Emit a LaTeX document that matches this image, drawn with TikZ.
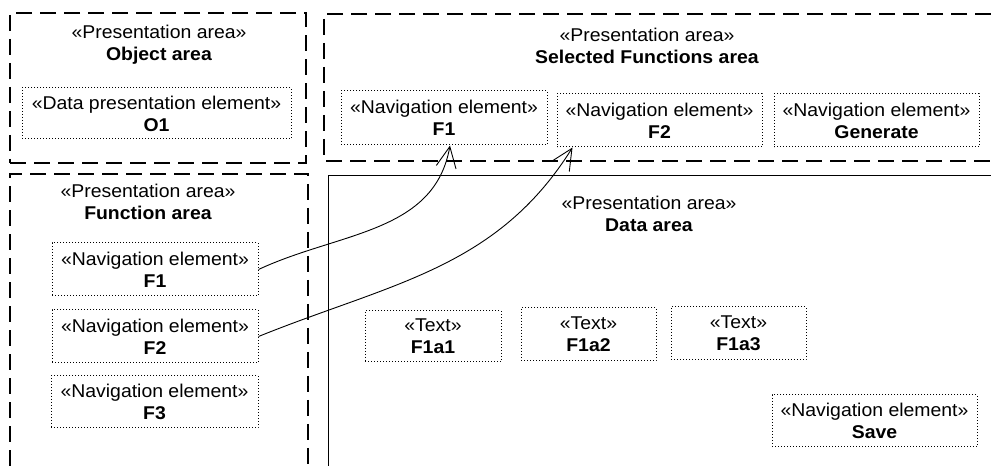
\documentclass[tikz,border=0pt]{standalone}
\usepackage{fontspec}
\setmainfont{Liberation Sans}[FakeStretch=1.05]
\usetikzlibrary{arrows.meta}
\begin{document}
\begin{tikzpicture}[x=1pt,y=1pt,
  every node/.style={font=\fontsize{18.5}{22}\selectfont, align=center},
  areabox/.style={draw, line width=1.8pt, dash pattern=on 16pt off 8pt},
  arealine/.style={line width=1.8pt, dash pattern=on 16pt off 8pt},
  elembox/.style={draw, rectangle, inner sep=0pt, line width=1pt, dash pattern=on 1pt off 2pt},
  areatitle/.style={inner sep=0pt},
  link/.style={line width=0.9pt, -{Straight Barb[length=21pt,width=20pt,line width=0.9pt]}}
]
\fill[white] (0,0) rectangle (991,466);
\useasboundingbox (0,0) rectangle (991,466);

% Object area
\node[areabox, rectangle, minimum width=296pt, minimum height=150pt, inner sep=0pt] (objA) at (158,378) {};
\node[areatitle] (objT) at (159,421.5) {«Presentation area»\\\textbf{Object area}};
\node[elembox, minimum width=269pt, minimum height=51pt] (o1) at (156.5,352.5) {«Data presentation element»\\\textbf{O1}};

% Selected Functions area
\draw[arealine] (991,452) -- (324,452) -- (324,305) -- (991,305);
\node[areatitle] (selT) at (647,420) {«Presentation area»\\\textbf{Selected Functions area}};
\node[elembox, minimum width=206pt, minimum height=54pt] (sF1) at (444,348) {«Navigation element»\\\textbf{F1}};
\node[elembox, minimum width=205pt, minimum height=53pt] (sF2) at (659.5,345.5) {«Navigation element»\\\textbf{F2}};
\node[elembox, minimum width=205pt, minimum height=53pt] (sGen) at (876.5,345.5) {«Navigation element»\\\textbf{Generate}};

% Function area
\draw[arealine] (10,0) -- (10,292) -- (308,292) -- (308,0);
\node[areatitle] (funT) at (148,264) {«Presentation area»\\\textbf{Function area}};
\node[elembox, minimum width=206pt, minimum height=53pt] (fF1) at (155,196.5) {«Navigation element»\\\textbf{F1}};
\node[elembox, minimum width=206pt, minimum height=53pt] (fF2) at (155,129.5) {«Navigation element»\\\textbf{F2}};
\node[elembox, minimum width=207pt, minimum height=52pt] (fF3) at (154.5,64) {«Navigation element»\\\textbf{F3}};

% Data area
\draw[line width=0.9pt] (991,291) -- (328,291) -- (328,0);
\node[areatitle] (datT) at (649,252.5) {«Presentation area»\\\textbf{Data area}};
\node[elembox, minimum width=136pt, minimum height=51pt] (t1) at (433,129.5) {«Text»\\\textbf{F1a1}};
\node[elembox, minimum width=135pt, minimum height=53pt] (t2) at (588.5,131.5) {«Text»\\\textbf{F1a2}};
\node[elembox, minimum width=135pt, minimum height=53pt] (t3) at (738.5,132.5) {«Text»\\\textbf{F1a3}};
\node[elembox, minimum width=205pt, minimum height=52pt] (save) at (874.5,45) {«Navigation element»\\\textbf{Save}};

% Connectors
\draw[link] (fF1.east) to[out=25,in=-100] ([xshift=6pt]sF1.south);
\draw[link] (fF2.east) to[out=22,in=-122] ([xshift=16pt]sF2.south west);
\end{tikzpicture}
\end{document}
